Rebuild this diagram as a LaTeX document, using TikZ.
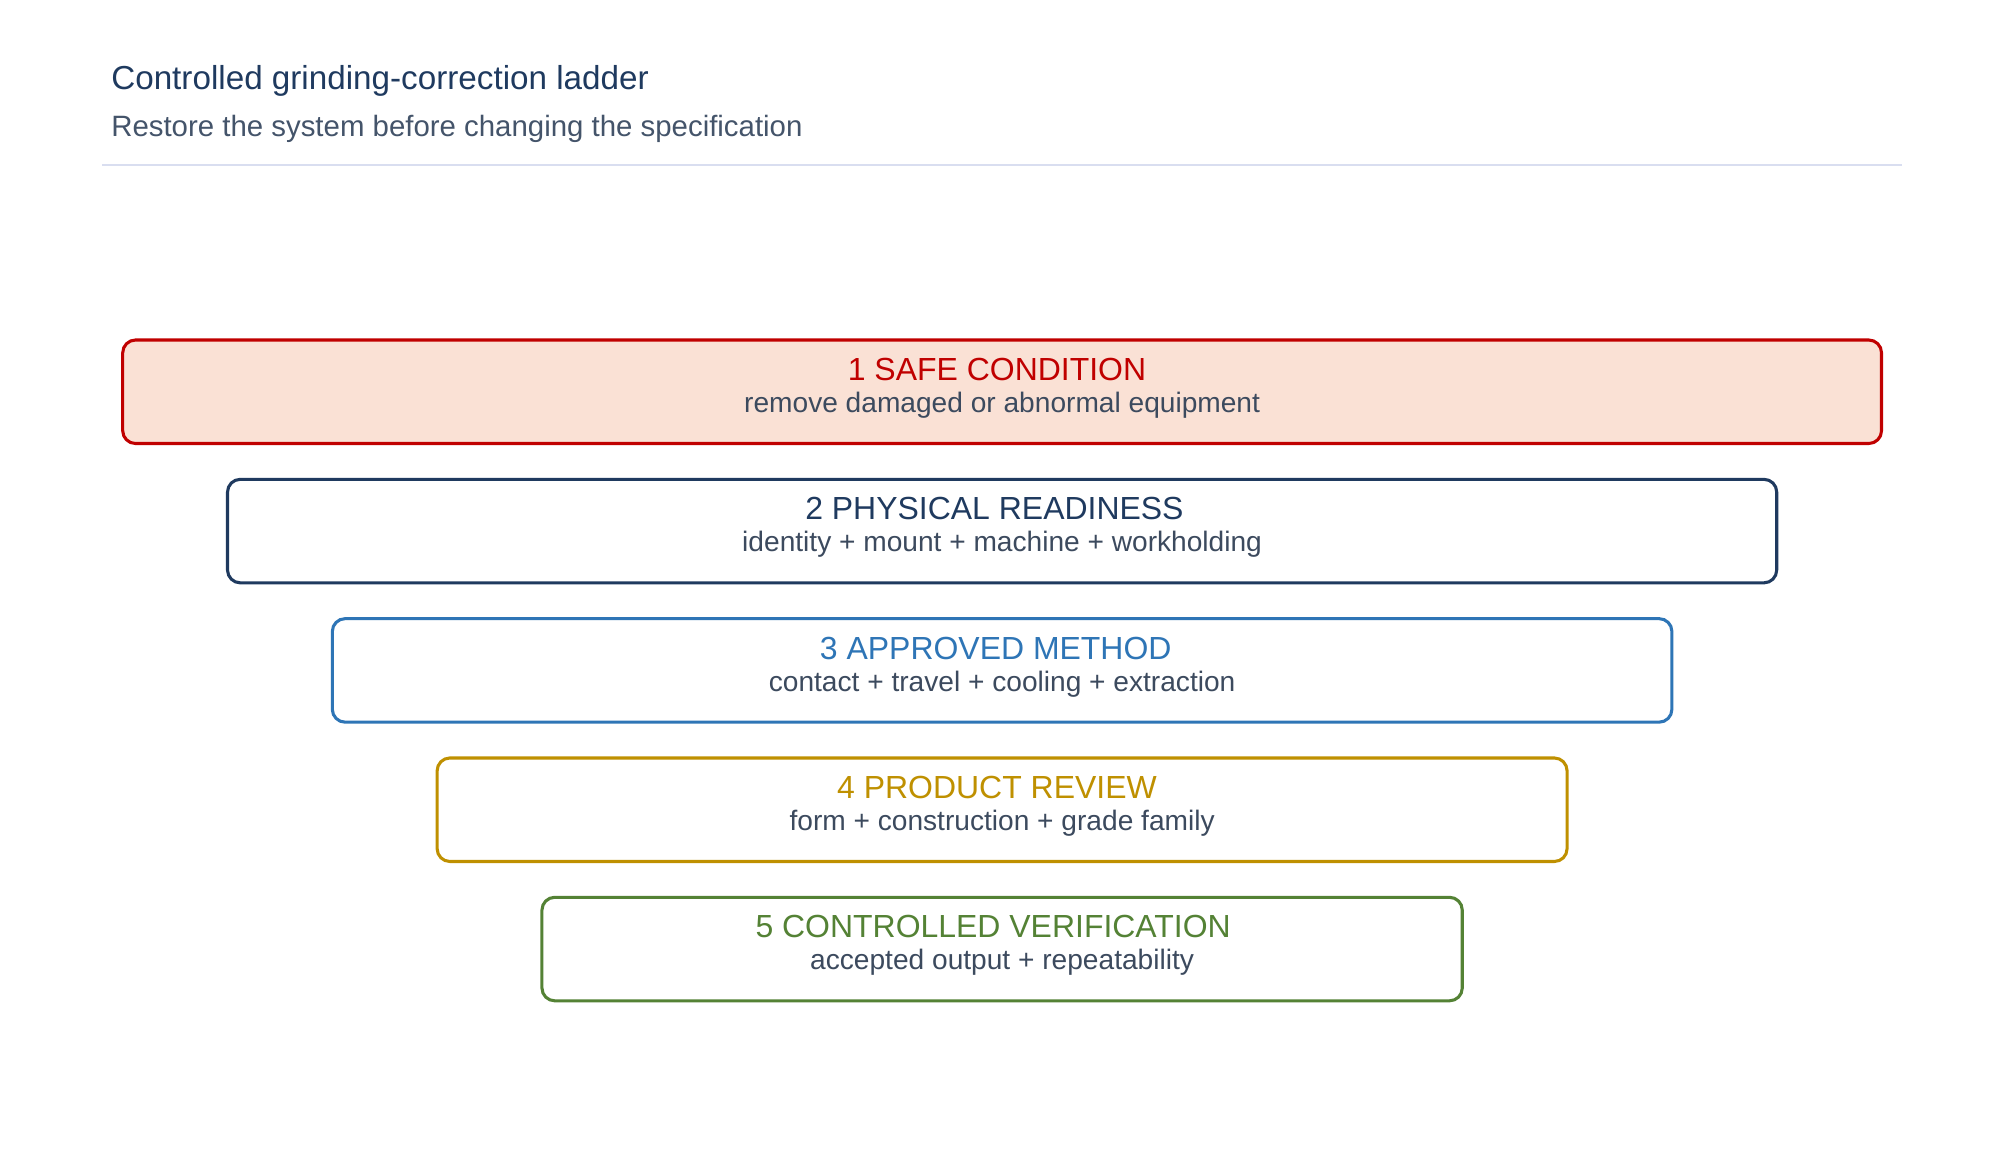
\documentclass[tikz,border=0pt]{standalone}
\usepackage{fontspec}
\setmainfont{Liberation Sans}
\definecolor{navy}{HTML}{1F3A5F}
\definecolor{sub}{HTML}{44546A}
\definecolor{body}{HTML}{3C4A5E}
\definecolor{rl}{HTML}{D9DEF0}
\definecolor{cred}{HTML}{C00000}
\definecolor{cfill}{HTML}{FAE1D5}
\definecolor{cblue}{HTML}{2E75B6}
\definecolor{cgold}{HTML}{BF9000}
\definecolor{cgreen}{HTML}{548235}
\begin{document}
\begin{tikzpicture}[x=0.5pt,y=-0.5pt,
  step/.style={draw=#1,line width=1.2pt,rounded corners=5pt,fill=white},
  hd/.style={font=\fontsize{12.5}{14}\selectfont,anchor=center},
  bd/.style={font=\fontsize{11}{13}\selectfont,text=body,anchor=center}]
\useasboundingbox (0,0) rectangle (1560,908);
\node[anchor=west,text=navy,font=\fontsize{13}{15}\selectfont] (t) at (80,63) {Controlled grinding-correction ladder};
\node[anchor=west,text=sub,font=\fontsize{11.5}{13}\selectfont] (s) at (80,101) {Restore the system before changing the specification};
\draw[rl,line width=0.8pt] (80,129) -- (1488,129);
\draw[step=cred,fill=cfill] (96,266) rectangle (1472,347);
\node[hd,text=cred] (h1) at (780,289) {1 SAFE CONDITION};
\node[bd] (b1) at (784,317) {remove damaged or abnormal equipment};
\draw[step=navy] (178,375) rectangle (1390,456);
\node[hd,text=navy] (h2) at (778,398) {2 PHYSICAL READINESS};
\node[bd] (b2) at (784,426) {identity + mount + machine + workholding};
\draw[step=cblue] (260,484) rectangle (1308,565);
\node[hd,text=cblue] (h3) at (779,507) {3 APPROVED METHOD};
\node[bd] (b3) at (784,535) {contact + travel + cooling + extraction};
\draw[step=cgold] (342,593) rectangle (1226,674);
\node[hd,text=cgold] (h4) at (780,616) {4 PRODUCT REVIEW};
\node[bd] (b4) at (784,644) {form + construction + grade family};
\draw[step=cgreen] (424,702) rectangle (1144,783);
\node[hd,text=cgreen] (h5) at (777,725) {5 CONTROLLED VERIFICATION};
\node[bd] (b5) at (784,753) {accepted output + repeatability};
\end{tikzpicture}
\end{document}
